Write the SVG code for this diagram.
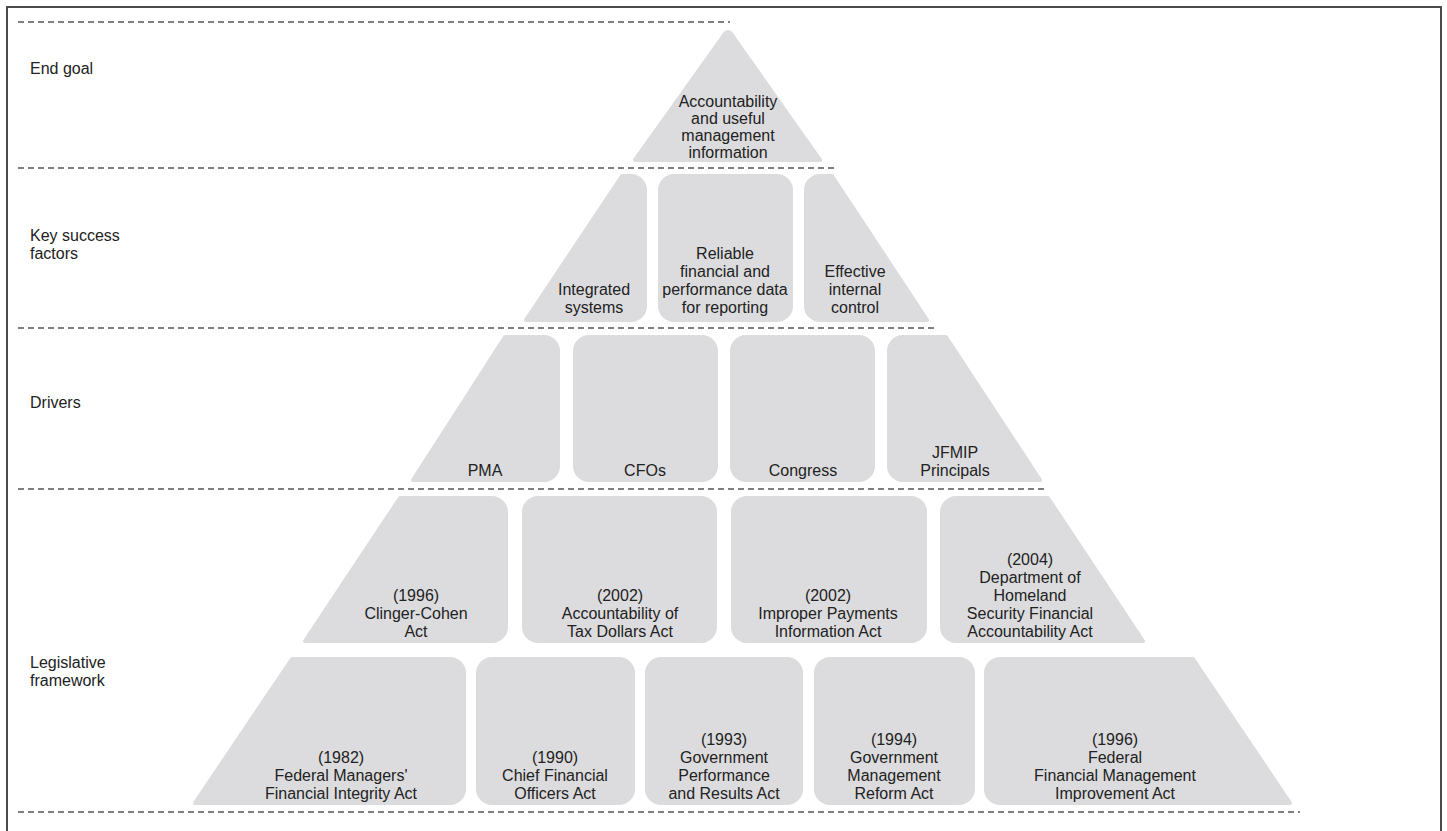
<svg xmlns="http://www.w3.org/2000/svg" width="1447" height="831" viewBox="0 0 1447 831">
  <style>
    .frame { fill: none; stroke: #4a4a4a; stroke-width: 2; }
    .sep { fill: none; stroke: #555; stroke-width: 1.3; stroke-dasharray: 6 4; }
    .blk { fill: #dcdcde; stroke: #dcdcde; stroke-width: 4; stroke-linejoin: round; }
    text { font-family: "Liberation Sans", Arial, sans-serif; font-size: 16px; fill: #222; }
    .c { text-anchor: middle; }
  </style>

  <!-- outer frame -->
  <rect class="frame" x="7" y="7" width="1434" height="840"/>

  <!-- level separators -->
  <g id="separators">
    <line class="sep" x1="18" y1="22" x2="730" y2="22"/>
    <line class="sep" x1="18" y1="168" x2="834" y2="168"/>
    <line class="sep" x1="18" y1="328" x2="935" y2="328"/>
    <line class="sep" x1="18" y1="489" x2="1045" y2="489"/>
    <line class="sep" x1="18" y1="812" x2="1300" y2="812"/>
  </g>

  <!-- level labels -->
  <g id="level-labels">
    <text x="30" y="74">End goal</text>
    <text x="30" y="241">Key success</text>
    <text x="30" y="259">factors</text>
    <text x="30" y="408">Drivers</text>
    <text x="30" y="668">Legislative</text>
    <text x="30" y="686">framework</text>
  </g>

  <!-- end goal -->
  <g id="end-goal">
    <path class="blk" d="M635,160 L722,38 Q728,26 734,38 L820,160 Z"/>
    <text class="c" x="728" y="107">Accountability</text>
    <text class="c" x="728" y="124">and useful</text>
    <text class="c" x="728" y="141">management</text>
    <text class="c" x="728" y="158">information</text>
  </g>

  <!-- key success factors -->
  <g id="integrated-systems">
    <path class="blk" d="M622,176 L631,176 A14,14 0 0 1 645,190 L645,306 A14,14 0 0 1 631,320 L526,320 Z"/>
    <text class="c" x="594" y="295">Integrated</text>
    <text class="c" x="594" y="313">systems</text>
  </g>
  <g id="reliable-data">
    <rect class="blk" x="660" y="176" width="131" height="144" rx="14"/>
    <text class="c" x="725" y="259">Reliable</text>
    <text class="c" x="725" y="277">financial and</text>
    <text class="c" x="725" y="295">performance data</text>
    <text class="c" x="725" y="313">for reporting</text>
  </g>
  <g id="internal-control">
    <path class="blk" d="M820,176 L832,176 L927,320 L820,320 A14,14 0 0 1 806,306 L806,190 A14,14 0 0 1 820,176 Z"/>
    <text class="c" x="855" y="277">Effective</text>
    <text class="c" x="855" y="295">internal</text>
    <text class="c" x="855" y="313">control</text>
  </g>

  <!-- drivers -->
  <g id="pma">
    <path class="blk" d="M505,337 L544,337 A14,14 0 0 1 558,351 L558,466 A14,14 0 0 1 544,480 L413,480 Z"/>
    <text class="c" x="485" y="476">PMA</text>
  </g>
  <g id="cfos">
    <rect class="blk" x="575" y="337" width="141" height="143" rx="14"/>
    <text class="c" x="645" y="476">CFOs</text>
  </g>
  <g id="congress">
    <rect class="blk" x="732" y="337" width="141" height="143" rx="14"/>
    <text class="c" x="803" y="476">Congress</text>
  </g>
  <g id="jfmip">
    <path class="blk" d="M903,337 L946,337 L1040,480 L903,480 A14,14 0 0 1 889,466 L889,351 A14,14 0 0 1 903,337 Z"/>
    <text class="c" x="955" y="458">JFMIP</text>
    <text class="c" x="955" y="476">Principals</text>
  </g>

  <!-- legislative framework, upper tier -->
  <g id="clinger-cohen">
    <path class="blk" d="M400,498 L492,498 A14,14 0 0 1 506,512 L506,627 A14,14 0 0 1 492,641 L305,641 Z"/>
    <text class="c" x="416" y="601">(1996)</text>
    <text class="c" x="416" y="619">Clinger-Cohen</text>
    <text class="c" x="416" y="637">Act</text>
  </g>
  <g id="tax-dollars">
    <rect class="blk" x="524" y="498" width="191" height="143" rx="14"/>
    <text class="c" x="620" y="601">(2002)</text>
    <text class="c" x="620" y="619">Accountability of</text>
    <text class="c" x="620" y="637">Tax Dollars Act</text>
  </g>
  <g id="improper-payments">
    <rect class="blk" x="733" y="498" width="192" height="143" rx="14"/>
    <text class="c" x="828" y="601">(2002)</text>
    <text class="c" x="828" y="619">Improper Payments</text>
    <text class="c" x="828" y="637">Information Act</text>
  </g>
  <g id="dhs-act">
    <path class="blk" d="M956,498 L1048,498 L1143,641 L956,641 A14,14 0 0 1 942,627 L942,512 A14,14 0 0 1 956,498 Z"/>
    <text class="c" x="1030" y="565">(2004)</text>
    <text class="c" x="1030" y="583">Department of</text>
    <text class="c" x="1030" y="601">Homeland</text>
    <text class="c" x="1030" y="619">Security Financial</text>
    <text class="c" x="1030" y="637">Accountability Act</text>
  </g>

  <!-- legislative framework, lower tier -->
  <g id="fmfia">
    <path class="blk" d="M292,659 L450,659 A14,14 0 0 1 464,673 L464,789 A14,14 0 0 1 450,803 L195,803 Z"/>
    <text class="c" x="341" y="763">(1982)</text>
    <text class="c" x="341" y="781">Federal Managers'</text>
    <text class="c" x="341" y="799">Financial Integrity Act</text>
  </g>
  <g id="cfo-act">
    <rect class="blk" x="478" y="659" width="155" height="144" rx="14"/>
    <text class="c" x="555" y="763">(1990)</text>
    <text class="c" x="555" y="781">Chief Financial</text>
    <text class="c" x="555" y="799">Officers Act</text>
  </g>
  <g id="gpra">
    <rect class="blk" x="647" y="659" width="154" height="144" rx="14"/>
    <text class="c" x="724" y="745">(1993)</text>
    <text class="c" x="724" y="763">Government</text>
    <text class="c" x="724" y="781">Performance</text>
    <text class="c" x="724" y="799">and Results Act</text>
  </g>
  <g id="gmra">
    <rect class="blk" x="816" y="659" width="157" height="144" rx="14"/>
    <text class="c" x="894" y="745">(1994)</text>
    <text class="c" x="894" y="763">Government</text>
    <text class="c" x="894" y="781">Management</text>
    <text class="c" x="894" y="799">Reform Act</text>
  </g>
  <g id="ffmia">
    <path class="blk" d="M1000,659 L1193,659 L1290,803 L1000,803 A14,14 0 0 1 986,789 L986,673 A14,14 0 0 1 1000,659 Z"/>
    <text class="c" x="1115" y="745">(1996)</text>
    <text class="c" x="1115" y="763">Federal</text>
    <text class="c" x="1115" y="781">Financial Management</text>
    <text class="c" x="1115" y="799">Improvement Act</text>
  </g>

  <!-- no connectors in this chart -->
  <g id="connectors"/>
</svg>
